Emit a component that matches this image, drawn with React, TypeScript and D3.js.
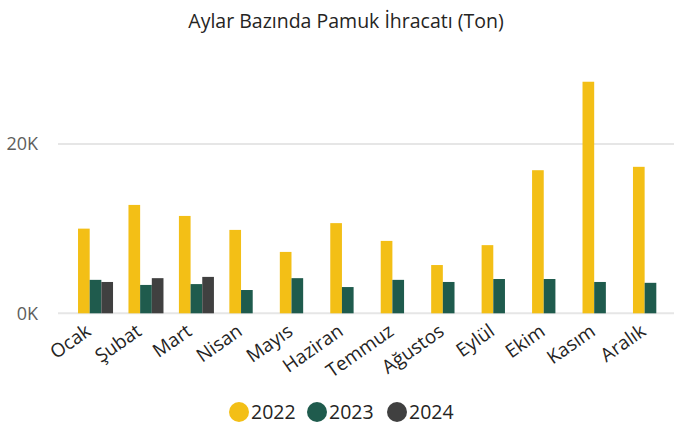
import { useEffect, useRef } from 'react';
import * as d3 from 'd3';

const months = ['Ocak', 'Şubat', 'Mart', 'Nisan', 'Mayıs', 'Haziran', 'Temmuz', 'Ağustos', 'Eylül', 'Ekim', 'Kasım', 'Aralık'];
const years = ['2022', '2023', '2024'];
const values2022 = [10000, 12800, 11500, 9850, 7250, 10650, 8550, 5700, 8050, 16900, 27350, 17300];
const values2023 = [3950, 3350, 3450, 2750, 4150, 3100, 3950, 3700, 4050, 4050, 3700, 3600];
const values2024 = [3700, 4150, 4300, null, null, null, null, null, null, null, null, null];
const yTicks = [0, 20000];
const colors = ['#F3BF16', '#1F5B4D', '#404040'];

const W = 674;
const H = 426;
const FONT = '"Open Sans", sans-serif';

export default function App() {
  const svgRef = useRef<SVGSVGElement>(null);

  useEffect(() => {
    if (!svgRef.current) return;
    const svg = d3.select(svgRef.current);
    svg.selectAll('*').remove();

    const series = [values2022, values2023, values2024];

    const x0 = d3.scaleBand().domain(months).range([70.3, 675.7]).paddingInner(0.306).paddingOuter(0.153);
    const x1 = d3.scaleBand().domain(years).range([0, x0.bandwidth()]);
    const y = d3.scaleLinear().domain([0, 30000]).range([313.3, 59.3]);

    // title
    svg.append('text')
      .attr('x', 346)
      .attr('y', 28)
      .attr('text-anchor', 'middle')
      .attr('font-family', FONT)
      .attr('font-size', 19.5)
      .attr('fill', '#252423')
      .text('Aylar Bazında Pamuk İhracatı (Ton)');

    // gridlines
    svg.append('g')
      .selectAll('line')
      .data(yTicks)
      .enter()
      .append('line')
      .attr('x1', 58)
      .attr('x2', W)
      .attr('y1', d => y(d))
      .attr('y2', d => y(d))
      .attr('stroke', '#E6E6E6')
      .attr('stroke-width', 2);

    // y tick labels
    svg.append('g')
      .selectAll('text')
      .data(yTicks)
      .enter()
      .append('text')
      .attr('x', 38)
      .attr('y', d => y(d))
      .attr('dy', '0.35em')
      .attr('text-anchor', 'end')
      .attr('font-family', FONT)
      .attr('font-size', 18)
      .attr('fill', '#605E5C')
      .text(d => `${d / 1000}K`);

    // bars
    const groups = svg.append('g')
      .selectAll('g')
      .data(months)
      .enter()
      .append('g')
      .attr('transform', d => `translate(${x0(d)},0)`);

    groups.selectAll('rect')
      .data((_, i) => years.map((yr, k) => ({ yr, k, v: series[k][i] })).filter(d => d.v != null))
      .enter()
      .append('rect')
      .attr('x', d => x1(d.yr) as number)
      .attr('width', x1.bandwidth())
      .attr('y', d => y(d.v as number))
      .attr('height', d => y(0) - y(d.v as number))
      .attr('fill', d => colors[d.k]);

    // x labels
    svg.append('g')
      .selectAll('text')
      .data(months)
      .enter()
      .append('text')
      .attr('transform', d => `translate(${(x0(d) as number) + x0.bandwidth() / 2 - 11},323) rotate(-35)`)
      .attr('dy', '0.71em')
      .attr('text-anchor', 'end')
      .attr('font-family', FONT)
      .attr('font-size', 19)
      .attr('fill', '#252423')
      .text(d => d);

    // legend
    const legendX = [239, 317, 397];
    const legend = svg.append('g')
      .selectAll('g')
      .data(years)
      .enter()
      .append('g')
      .attr('transform', (_, i) => `translate(${legendX[i]},412)`);
    legend.append('circle')
      .attr('r', 10)
      .attr('fill', (_, i) => colors[i]);
    legend.append('text')
      .attr('x', 12)
      .attr('dy', '0.35em')
      .attr('font-family', FONT)
      .attr('font-size', 19.5)
      .attr('fill', '#252423')
      .text(d => d);
  }, []);

  return (
    <svg ref={svgRef} width={W} height={H} style={{ position: 'absolute', left: 0, top: 0, background: '#fff' }}></svg>
  );
}
